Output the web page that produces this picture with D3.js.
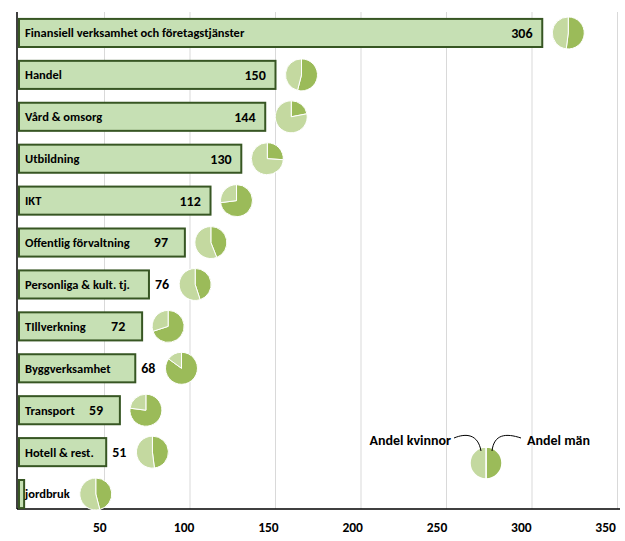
<!DOCTYPE html>
<html>
<meta charset="utf-8">
  <head>
    <script src="https://d3js.org/d3.v7.min.js"></script>
    <style>
      body { margin: 0; background: #fff; }
      text { font-family: Carlito, Calibri, Lato, sans-serif; font-weight: bold; fill: #000; }
    </style>
  </head>
  <body>
    <div id="my_dataviz"></div>
    <script>

    // sector names, number of employees (thousands) and share of men
    var categories = ["Finansiell verksamhet och företagstjänster", "Handel", "Vård & omsorg",
      "Utbildning", "IKT", "Offentlig förvaltning", "Personliga & kult. tj.", "TIllverkning",
      "Byggverksamhet", "Transport", "Hotell & rest.", "jordbruk"];
    var values = [306, 150, 144, 130, 112, 97, 76, 72, 68, 59, 51, 3];
    var shareMen = [0.52, 0.54, 0.22, 0.26, 0.73, 0.44, 0.45, 0.70, 0.85, 0.77, 0.48, 0.46];
    var showValue = [true, true, true, true, true, true, true, true, true, true, true, false];
    var ticks = [50, 100, 150, 200, 250, 300, 350];
    var legendLabels = ["Andel kvinnor", "Andel män"];
    var legendShares = [0.5, 0.5];

    var width = 625, height = 541;
    var dark = "#9bbb59", light = "#c4d9a0", barFill = "#c6e0b4", barStroke = "#375623";

    var svg = d3.select("#my_dataviz")
      .append("svg")
        .attr("width", width)
        .attr("height", height);

    var x = d3.scaleLinear()
        .domain([0, 350])
        .range([19, 617.5]);

    var y = d3.scaleBand()
        .domain(categories)
        .range([12, 515])
        .paddingInner(0.33)
        .paddingOuter(0.165);

    var axisY = 509;

    // gridlines
    svg.append("g")
      .selectAll("line")
      .data(ticks)
      .enter()
      .append("line")
        .attr("x1", function(d) { return x(d); })
        .attr("x2", function(d) { return x(d); })
        .attr("y1", 12)
        .attr("y2", axisY)
        .attr("stroke", "#d9d9d9")
        .attr("stroke-width", 1);

    // x axis
    var xAxis = svg.append("g")
        .attr("transform", "translate(0," + axisY + ")")
        .call(d3.axisBottom(x).tickValues(ticks).tickSize(0).tickPadding(13));
    xAxis.select(".domain").remove();
    xAxis.selectAll("text")
        .style("font-size", "13.5px")
        .style("font-family", "Carlito, Calibri, Lato, sans-serif")
        .attr("dx", function(d) { return -4 - d / 50 * 1.2; });

    svg.append("line")
        .attr("x1", 17).attr("x2", 620)
        .attr("y1", axisY).attr("y2", axisY)
        .attr("stroke", "#000").attr("stroke-width", 1.5);
    svg.append("line")
        .attr("x1", 17).attr("x2", 17)
        .attr("y1", 12).attr("y2", axisY)
        .attr("stroke", "#000").attr("stroke-width", 1.5);

    // bars
    var rows = categories.map(function(c, i) {
      return {name: c, value: values[i], men: shareMen[i], show: showValue[i]};
    });

    svg.append("g")
      .selectAll("rect")
      .data(rows)
      .enter()
      .append("rect")
        .attr("x", x(0))
        .attr("y", function(d) { return y(d.name); })
        .attr("width", function(d) { return x(d.value) - x(0); })
        .attr("height", y.bandwidth())
        .attr("fill", barFill)
        .attr("stroke", barStroke)
        .attr("stroke-width", 2);

    var pie = d3.pie().sort(null).value(function(d) { return d; });
    var arc = d3.arc().innerRadius(0).outerRadius(16);

    rows.forEach(function(d) {
      var cy = y(d.name) + y.bandwidth() / 2;
      var end = x(d.value);

      var name = svg.append("text")
          .attr("x", 25)
          .attr("y", cy)
          .attr("dy", "0.35em")
          .style("font-size", "12.5px")
          .text(d.name);
      var nameEnd = 25 + name.node().getComputedTextLength();
      var right = Math.max(end, nameEnd);

      if (d.show) {
        var lab = svg.append("text")
            .attr("y", cy)
            .attr("dy", "0.35em")
            .style("font-size", "14px")
            .text(d.value);
        var w = lab.node().getComputedTextLength();
        if (end - 31 > nameEnd + 2) {
          lab.attr("x", end - 31);
        } else {
          lab.attr("x", end + 6);
          right = end + 6 + w;
        }
      }

      var g = svg.append("g")
          .attr("transform", "translate(" + (right + 26) + "," + cy + ")");
      g.selectAll("path")
        .data(pie([d.men, 1 - d.men]))
        .enter()
        .append("path")
          .attr("d", arc)
          .attr("fill", function(p, i) { return i === 0 ? dark : light; })
          .attr("stroke", "#fff")
          .attr("stroke-width", 1);
    });

    // legend
    var lx = 486, ly = 463;
    var lg = svg.append("g").attr("transform", "translate(" + lx + "," + ly + ")");
    lg.selectAll("path")
      .data(pie([legendShares[1], legendShares[0]]))
      .enter()
      .append("path")
        .attr("d", arc)
        .attr("fill", function(p, i) { return i === 0 ? dark : light; })
        .attr("stroke", "#fff")
        .attr("stroke-width", 1.5);

    svg.append("text")
        .attr("x", lx - 35).attr("y", 440)
        .attr("dy", "0.35em")
        .attr("text-anchor", "end")
        .style("font-size", "14px")
        .text(legendLabels[0]);
    svg.append("text")
        .attr("x", lx + 41).attr("y", 440)
        .attr("dy", "0.35em")
        .style("font-size", "14px")
        .text(legendLabels[1]);

    svg.append("path")
        .attr("d", "M" + (lx - 32) + ",438 C" + (lx - 20) + ",433 " + (lx - 8) + ",434 " + (lx - 5) + ",451")
        .attr("fill", "none").attr("stroke", "#000").attr("stroke-width", 1);
    svg.append("path")
        .attr("d", "M" + (lx + 6) + ",451 C" + (lx + 8) + ",434 " + (lx + 20) + ",433 " + (lx + 35) + ",438")
        .attr("fill", "none").attr("stroke", "#000").attr("stroke-width", 1);

    </script>
  </body>
</html>
